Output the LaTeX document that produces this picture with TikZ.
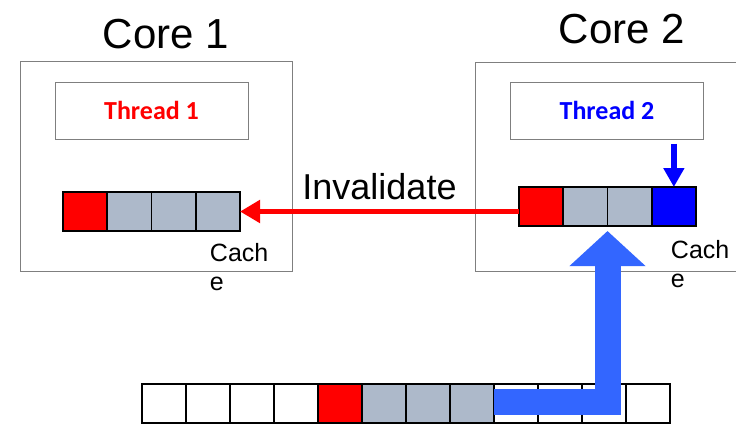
\documentclass[tikz,border=0pt]{standalone}
\usepackage{fontspec}
\setmainfont{Liberation Sans}
\newfontfamily\threadfont{Carlito}
\usetikzlibrary{arrows.meta,positioning}
\definecolor{cellgray}{HTML}{ADB9CA}
\definecolor{fetchblue}{HTML}{3366FF}
\definecolor{boxgray}{HTML}{7F7F7F}

\tikzset{
  corebox/.style={draw=boxgray, line width=1pt, inner sep=0pt},
  threadbox/.style={draw=boxgray, line width=1pt, minimum width=193pt, minimum height=57pt,
    font=\threadfont\bfseries\fontsize{26}{30}\selectfont},
  cell/.style={draw=black, line width=1.6pt, minimum width=44.25pt, minimum height=39pt,
    inner sep=0pt, outer sep=0pt},
  corelabel/.style={anchor=base, font=\fontsize{42}{50}\selectfont},
  cachelabel/.style={anchor=north west, inner sep=0pt, align=left, font=\fontsize{25}{29}\selectfont},
}

\begin{document}
\begin{tikzpicture}[x=1pt, y=-1pt]
  \useasboundingbox (0,0) rectangle (736,424);

  % cores
  \node[corebox, minimum width=272pt, minimum height=210pt] (core1) at (156,166) {};
  \node[corebox, minimum width=290pt, minimum height=209pt] (core2) at (620,166.5) {};
  \node[corelabel] (core1label) at (166,48) {Core 1};
  \node[corelabel] (core2label) at (622,43) {Core 2};

  % threads
  \node[threadbox, text=red] (thread1) at (151.5,110.5) {Thread 1};
  \node[threadbox, text=blue] (thread2) at (607,110.5) {Thread 2};

  % caches
  \foreach \c [count=\i] in {red,cellgray,cellgray,cellgray}
    \node[cell, fill=\c] (ca\i) at ({63+44.25*(\i-0.5)},211.5) {};
  \foreach \c [count=\i] in {red,cellgray,cellgray,blue}
    \node[cell, fill=\c] (cb\i) at ({519+44.25*(\i-0.5)},206.5) {};
  \node[cachelabel] (cachea) at ([shift={(14,12.5)}]ca4.south west) {Cach\\e};
  \node[cachelabel] (cacheb) at ([shift={(19,14)}]cb4.south west) {Cach\\e};

  % memory
  \foreach \c [count=\i] in {white,white,white,white,red,cellgray,cellgray,cellgray,white,white,white,white}
    \node[cell, fill=\c] (mem\i) at ({142+44*(\i-0.5)},403.5) {};

  % arrows
  \draw[red, line width=5.5pt, -{Triangle[length=20pt,width=22pt]}]
    (cb1.west |- ca4.east) -- (ca4.east)
    node[midway, anchor=base, yshift=12.5pt, text=black, font=\fontsize{36}{42}\selectfont] (inval) {Invalidate};
  \draw[blue, line width=6pt, -{Triangle[length=19pt,width=20pt]}]
    ([yshift=-4pt]thread2.south -| cb4.north) -- (cb4.north);
  \draw[fetchblue, line width=26pt, -{Triangle[length=35pt,width=74pt]}]
    ([yshift=2pt]mem8.east) -| ([yshift=-5pt]cb2.south east);
\end{tikzpicture}
\end{document}
